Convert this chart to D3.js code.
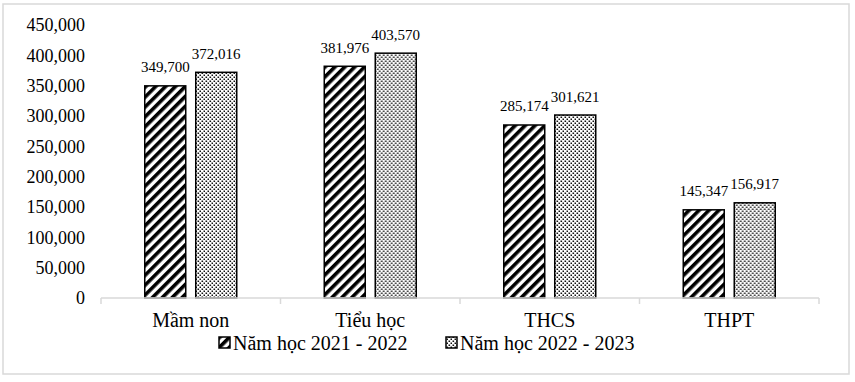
<!DOCTYPE html>
<html>
<head>
<meta charset="utf-8">
<script src="https://cdn.jsdelivr.net/npm/d3@7"></script>
<style>
  body { margin: 0; background: #fff; }
  svg { display: block; font-family: "Liberation Serif", "Times New Roman", serif; }
</style>
</head>
<body>
<svg id="chart" width="855" height="382"></svg>
<script>
const categories = ["Mầm non", "Tiểu học", "THCS", "THPT"];
const seriesNames = ["Năm học 2021 - 2022", "Năm học 2022 - 2023"];
const values2021 = [349700, 381976, 285174, 145347];
const values2022 = [372016, 403570, 301621, 156917];
const yTicks = [0, 50000, 100000, 150000, 200000, 250000, 300000, 350000, 400000, 450000];

const seriesValues = [values2021, values2022];
const svg = d3.select("#chart");
const fmt = d3.format(",");

// patterns
const defs = svg.append("defs");
const stripe = defs.append("pattern")
  .attr("id", "stripe").attr("patternUnits", "userSpaceOnUse")
  .attr("width", 7).attr("height", 7)
  .attr("patternTransform", "rotate(45)");
stripe.append("rect").attr("width", 7).attr("height", 7).attr("fill", "#fff");
stripe.append("rect").attr("width", 3.6).attr("height", 7).attr("fill", "#000");

const dots = defs.append("pattern")
  .attr("id", "dots").attr("patternUnits", "userSpaceOnUse")
  .attr("width", 4).attr("height", 4);
dots.append("rect").attr("width", 4).attr("height", 4).attr("fill", "#fff");
dots.append("rect").attr("x", 0.5).attr("y", 0.5).attr("width", 1.6).attr("height", 1.5).attr("fill", "#111");
dots.append("rect").attr("x", 2.5).attr("y", 2.5).attr("width", 1.6).attr("height", 1.5).attr("fill", "#111");

const fills = ["url(#stripe)", "url(#dots)"];

// outer border
svg.append("rect").attr("x", 3).attr("y", 4).attr("width", 846).attr("height", 370)
  .attr("fill", "none").attr("stroke", "#d9d9d9").attr("stroke-width", 1.5);

const y = d3.scaleLinear().domain([0, 450000]).range([298, 25]);
const x0 = d3.scaleBand().domain(categories).range([101, 819]);
const x1 = d3.scaleBand().domain([0, 1]).range([0, x0.bandwidth()])
  .paddingInner(0.196).paddingOuter(0.858);

// y axis labels
const yAxis = d3.axisLeft(y).tickValues(yTicks).tickFormat(d => fmt(d)).tickSize(0).tickPadding(0);
const yg = svg.append("g").attr("transform", "translate(85,0)").call(yAxis);
yg.select(".domain").remove();
yg.selectAll("text").attr("font-size", 18).attr("fill", "#000")
  .attr("font-family", "Liberation Serif, Times New Roman, serif");

// bars
categories.forEach((c, i) => {
  const g = svg.append("g").attr("transform", `translate(${x0(c)},0)`);
  seriesValues.forEach((vals, s) => {
    const v = vals[i];
    g.append("rect")
      .attr("x", x1(s)).attr("y", y(v))
      .attr("width", x1.bandwidth()).attr("height", y(0) - y(v))
      .attr("fill", fills[s]).attr("stroke", "#000").attr("stroke-width", 1.5);
    g.append("text")
      .attr("x", x1(s) + x1.bandwidth() / 2).attr("y", y(v) - 13.5)
      .attr("text-anchor", "middle").attr("font-size", 15).attr("fill", "#000")
      .text(fmt(v));
  });
});

// x axis
const xAxis = d3.axisBottom(x0).tickSize(0).tickPadding(0);
const xg = svg.append("g").attr("transform", "translate(0,298)").call(xAxis);
xg.select(".domain").attr("stroke", "#d9d9d9").attr("stroke-width", 1.5)
  .attr("d", "M101,0H819");
xg.selectAll(".tick line").remove();
xg.selectAll(".tick text").attr("font-size", 20).attr("fill", "#000")
  .attr("font-family", "Liberation Serif, Times New Roman, serif")
  .attr("dy", null).attr("y", 29);
const bounds = categories.map(c => x0(c)).concat([x0(categories[categories.length - 1]) + x0.bandwidth()]);
svg.append("g").selectAll("line").data(bounds).join("line")
  .attr("x1", d => d).attr("x2", d => d).attr("y1", 298).attr("y2", 304)
  .attr("stroke", "#d9d9d9").attr("stroke-width", 1.5);

// legend
const legendX = [219, 446];
seriesNames.forEach((name, s) => {
  const lg = svg.append("g");
  lg.append("rect").attr("x", legendX[s]).attr("y", 337).attr("width", 11).attr("height", 11)
    .attr("fill", fills[s]).attr("stroke", "#000").attr("stroke-width", 1.5);
  lg.append("text").attr("x", legendX[s] + 14).attr("y", 350)
    .attr("font-size", 20).attr("fill", "#000").text(name);
});
</script>
</body>
</html>
